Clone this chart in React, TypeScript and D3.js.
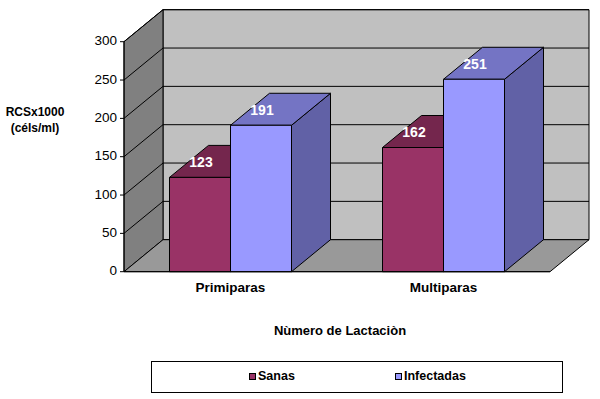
import React from 'react';
import * as d3 from 'd3';

// chart data
const categories = ['Primiparas', 'Multiparas'];
const seriesNames = ['Sanas', 'Infectadas'];
const sanas = [123, 162];
const infectadas = [191, 251];
const yTicks = [0, 50, 100, 150, 200, 250, 300];

const W = 600;
const H = 399;
const FONT = '"Liberation Sans", Arial, sans-serif';

// colours for front / top / side faces
const faceColors = [
	{ front: '#993366', top: '#74264d', side: '#5e1f3f' },
	{ front: '#9999ff', top: '#7474c4', side: '#6161a6' },
];

export default function App() {
	// front plane of the plot
	const left = 124, right = 550;
	const bottom = 271.7, top = 41.7;
	// depth offset for the 3d walls
	const dx = 39, dy = -32;

	const y = d3.scaleLinear().domain([0, 300]).range([bottom, top]);
	const x0 = d3.scaleBand().domain(categories).range([left, right]).padding(0);
	const groupWidth = 122;
	const x1 = d3.scaleBand().domain(seriesNames).range([0, groupWidth]).padding(0);

	const values = [sanas, infectadas];

	const pts = (arr: number[][]) => arr.map(p => p.join(',')).join(' ');

	const bars: React.ReactNode[] = [];
	const labels: React.ReactNode[] = [];
	categories.forEach((cat, ci) => {
		const gx = (x0(cat) as number) + (x0.bandwidth() - groupWidth) / 2;
		seriesNames.forEach((s, si) => {
			const v = values[si][ci];
			const bx = gx + (x1(s) as number);
			const bw = x1.bandwidth();
			const by = y(v);
			const c = faceColors[si];
			bars.push(
				<g key={cat + s} stroke="#000" strokeWidth={1} strokeLinejoin="round">
					<polygon fill={c.side} points={pts([[bx + bw, by], [bx + bw + dx, by + dy], [bx + bw + dx, bottom + dy], [bx + bw, bottom]])} />
					<polygon fill={c.top} points={pts([[bx, by], [bx + dx, by + dy], [bx + bw + dx, by + dy], [bx + bw, by]])} />
					<rect x={bx} y={by} width={bw} height={bottom - by} fill={c.front} />
				</g>
			);
			labels.push(
				<text key={'l' + cat + s} x={bx + bw / 2 + 1} y={by - 14} fill="#fff" fontWeight="bold"
					fontSize={14} textAnchor="middle" dominantBaseline="middle" fontFamily={FONT}>{v}</text>
			);
		});
	});

	return (
		<svg width={W} height={H} style={{ position: 'absolute', left: 0, top: 0, background: '#fff' }}>
			{/* walls */}
			<polygon points={pts([[left + dx, top + dy], [right + dx, top + dy], [right + dx, bottom + dy], [left + dx, bottom + dy]])}
				fill="#c0c0c0" stroke="#000" strokeWidth={1} />
			<polygon points={pts([[left, top], [left + dx, top + dy], [left + dx, bottom + dy], [left, bottom]])}
				fill="#808080" stroke="#000" strokeWidth={1} />
			<polygon points={pts([[left, bottom], [left + dx, bottom + dy], [right + dx, bottom + dy], [right, bottom]])}
				fill="#999999" stroke="#000" strokeWidth={1} />
			{/* gridlines */}
			{yTicks.slice(1).map(t => (
				<g key={'g' + t} stroke="#000" strokeWidth={1}>
					<line x1={left} y1={y(t)} x2={left + dx} y2={y(t) + dy} />
					<line x1={left + dx} y1={y(t) + dy} x2={right + dx} y2={y(t) + dy} />
				</g>
			))}
			{bars}
			{labels}
			{/* y axis */}
			<line x1={left} y1={top} x2={left} y2={bottom} stroke="#000" />
			<line x1={left} y1={bottom} x2={right} y2={bottom} stroke="#000" />
			{yTicks.map(t => (
				<g key={'t' + t}>
					<line x1={left - 4} x2={left} y1={y(t)} y2={y(t)} stroke="#000" />
					<text x={left - 7} y={y(t)} textAnchor="end" dominantBaseline="middle"
						fontSize={13.5} fontFamily={FONT}>{t}</text>
				</g>
			))}
			<text x={35} y={113} textAnchor="middle" dominantBaseline="middle" fontSize={12}
				fontWeight="bold" fontFamily={FONT}>RCSx1000</text>
			<text x={35} y={129} textAnchor="middle" dominantBaseline="middle" fontSize={12}
				fontWeight="bold" fontFamily={FONT}>(céls/ml)</text>
			{/* category labels */}
			{categories.map(cat => (
				<text key={'c' + cat} x={(x0(cat) as number) + x0.bandwidth() / 2} y={288}
					textAnchor="middle" dominantBaseline="middle" fontSize={13.5} fontWeight="bold"
					fontFamily={FONT}>{cat}</text>
			))}
			<text x={340} y={332} textAnchor="middle" dominantBaseline="middle" fontSize={13}
				fontWeight="bold" fontFamily={FONT}>Nùmero de Lactaciòn</text>
			{/* legend */}
			<rect x={151.5} y={361.5} width={411} height={31} fill="#fff" stroke="#000" />
			{seriesNames.map((s, i) => {
				const lx = [249, 395][i];
				return (
					<g key={'lg' + s}>
						<rect x={lx + 0.5} y={373.5} width={6} height={6} fill={faceColors[i].front} stroke="#000" />
						<text x={lx + 9} y={377} dominantBaseline="middle" fontSize={12.5} fontWeight="bold"
							fontFamily={FONT}>{s}</text>
					</g>
				);
			})}
		</svg>
	);
}
